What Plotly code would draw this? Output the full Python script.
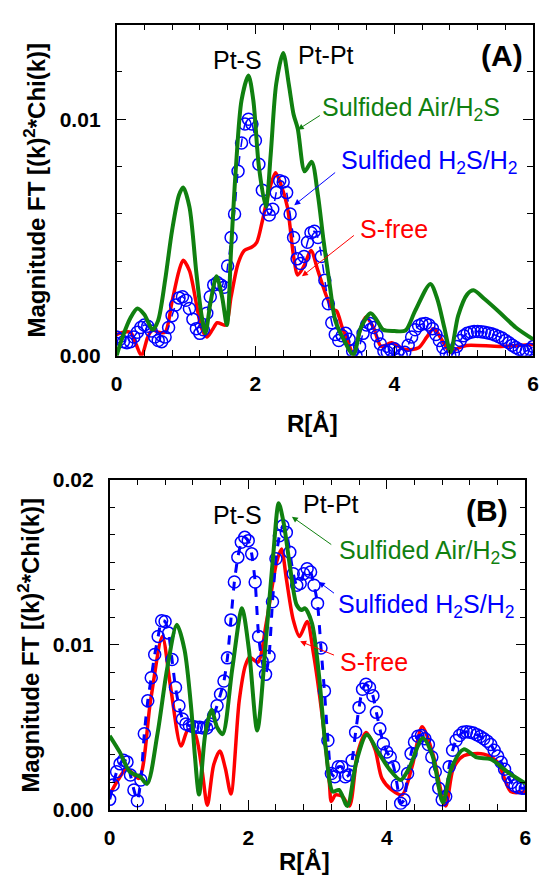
import plotly.graph_objects as go

# ---------------- Panel A data (values in units of 1e-3) ----------------
a_green_r = [0, 0.1, 0.2, 0.30, 0.4, 0.52, 0.6, 0.7, 0.8, 0.9, 0.96, 1.05, 1.15, 1.22, 1.28, 1.35, 1.44, 1.52, 1.59,
             1.65, 1.72, 1.8, 1.90, 1.97, 2.05, 2.15, 2.22, 2.3, 2.40, 2.48, 2.55, 2.61, 2.71, 2.81, 2.9, 2.98, 3.07,
             3.15, 3.27, 3.41, 3.52, 3.66, 3.75, 3.84, 4.0, 4.16, 4.3, 4.52, 4.62, 4.72, 4.81, 4.92, 5.05, 5.14, 5.3,
             5.53, 5.75, 6.0]
a_green_v = [0, 0.9, 1.6, 2.0, 1.75, 1.1, 1.5, 3.2, 5.3, 6.8, 7.12, 6.3, 3.5, 1.8, 0.96, 2.2, 3.36, 2.5, 1.3,
             4.5, 8.0, 10.8, 11.85, 10.8, 8.0, 6.3, 8.5, 11.5, 12.8, 11.5, 10.2, 9.6, 7.8, 8.2, 6.8, 4.9, 3.0,
             1.5, 0.7, 0.05, 1.2, 1.8, 1.5, 1.1, 1.05, 1.07, 1.9, 3.04, 2.4, 1.2, 0.16, 1.7, 2.6, 2.77, 2.4,
             1.8, 1.2, 0.7]

a_red_r = [0, 0.1, 0.2, 0.28, 0.36, 0.45, 0.52, 0.6, 0.7, 0.8, 0.9, 0.96, 1.05, 1.15, 1.22, 1.30, 1.38, 1.45, 1.57,
           1.65, 1.75, 1.84, 1.95, 2.02, 2.1, 2.2, 2.29, 2.36, 2.46, 2.55, 2.61, 2.7, 2.80, 2.9, 3.03, 3.12, 3.17,
           3.25, 3.32, 3.41, 3.5, 3.59, 3.7, 3.81, 3.96, 4.16, 4.35, 4.47, 4.57, 4.7, 4.81, 4.9, 5.04, 5.53, 6.0]
a_red_v = [0.9, 1.0, 1.0, 0.5, 0.0, 0.8, 1.1, 1.0, 1.0, 2.3, 3.6, 4.04, 3.6, 2.2, 1.2, 0.8, 1.1, 1.4, 1.3,
           2.5, 3.9, 4.45, 4.6, 4.8, 5.7, 7.0, 7.74, 7.3, 6.3, 4.2, 3.42, 3.8, 4.45, 3.6, 2.47, 1.95, 1.9,
           1.2, 0.7, 0.07, 1.0, 1.64, 1.2, 0.4, 0.55, 0.27, 0.34, 0.8, 1.16, 0.6, 0.14, 0.3, 0.44, 0.4, 0.48]

a_blue_r = [round(i * 0.05, 2) for i in range(121)]
a_blue_v = [0.8, 0.7, 0.6, 0.55, 0.6, 0.8, 1.0, 1.2, 1.3, 1.25, 1.05, 0.8, 0.65, 0.6, 0.8, 1.2, 1.7, 2.15, 2.45, 2.5,
            2.35, 2.0, 1.55, 1.15, 0.95, 1.1, 1.8, 2.5, 3.0, 3.1, 3.0, 2.9, 3.8, 5.0, 6.0, 7.8, 9.0, 9.8, 10.0, 9.8,
            9.1, 8.1, 7.0, 6.2, 5.95, 6.2, 6.9, 7.4, 7.35, 6.9, 6.0, 5.0, 4.1, 3.9, 4.2, 4.8, 5.2, 5.27, 5.0, 4.2,
            3.2, 2.2, 1.4, 0.9, 0.65, 0.85, 0.95, 0.7, 0.2, 0.0, 0.4, 0.95, 1.3, 1.37, 1.2, 0.85, 0.5, 0.2, 0.15, 0.25,
            0.3, 0.15, 0.02, 0.15, 0.45, 0.8, 1.1, 1.27, 1.35, 1.37, 1.3, 1.15, 0.9, 0.65, 0.35, 0.1, 0.0, 0.1, 0.4, 0.65,
            0.85, 0.95, 1.0, 1.03, 1.03, 1.02, 1.0, 0.97, 0.93, 0.88, 0.82, 0.75, 0.65, 0.55, 0.45, 0.35, 0.27, 0.22, 0.2, 0.28,
            0.4]

# ---------------- Panel B data (values in units of 1e-3) ----------------
b_green_r = [0, 0.15, 0.29, 0.44, 0.54, 0.69, 0.83, 0.97, 1.08, 1.18, 1.23, 1.29, 1.38, 1.47, 1.55, 1.63, 1.77, 1.91,
             2.01, 2.13, 2.26, 2.36, 2.44, 2.51, 2.60, 2.70, 2.77, 2.82, 2.92, 3.02, 3.12, 3.22, 3.31, 3.43, 3.56,
             3.71, 3.88, 4.03, 4.2, 4.32, 4.52, 4.66, 4.81, 4.93, 5.11, 5.3, 5.5, 5.74, 6.0]
b_green_v = [4.48, 3.46, 2.3, 2.0, 1.57, 4.6, 8.55, 11.2, 9.7, 6.0, 3.27, 0.92, 4.6, 6.05, 5.0, 4.58, 8.55, 12.2,
             9.7, 4.8, 10.5, 15.4, 18.57, 17.4, 14.8, 12.4, 12.1, 12.2, 11.3, 8.2, 3.66, 1.1, 1.2, 0.23, 2.9,
             4.54, 3.46, 2.5, 1.8, 2.5, 4.34, 3.27, 0.43, 2.5, 3.66, 3.17, 3.07, 2.3, 1.6]

b_red_r = [0, 0.12, 0.25, 0.42, 0.59, 0.76, 0.88, 1.03, 1.13, 1.23, 1.33, 1.41, 1.5, 1.59, 1.67, 1.75, 1.87, 1.96,
           2.02, 2.14, 2.26, 2.41, 2.48, 2.55, 2.65, 2.74, 2.85, 2.94, 3.07, 3.17, 3.2, 3.26, 3.36, 3.46, 3.58, 3.70,
           3.83, 3.93, 4.07, 4.22, 4.37, 4.51, 4.66, 4.85, 4.96, 5.11, 5.4, 5.6, 5.79, 6.0]
b_red_v = [0.9, 1.8, 2.5, 1.9, 6.6, 10.5, 7.4, 3.86, 4.83, 4.6, 2.5, 0.27, 2.7, 3.56, 2.5, 0.96, 6.6, 8.75,
           9.24, 8.94, 11.3, 15.0, 15.8, 14.0, 11.5, 10.5, 11.4, 9.5, 5.6, 1.7, 0.5, 0.9, 0.8, 0.23, 3.46, 4.68,
           3.66, 1.9, 1.2, 0.9, 2.7, 5.03, 3.46, 0.23, 2.5, 3.27, 3.37, 2.88, 1.1, 1.1]

b_blue_r = [round(i * 0.05, 2) for i in range(121)]
b_blue_v = [0.63, 1.5, 2.3, 2.78, 3.0, 2.9, 2.1, 1.2, 0.55, 1.8, 4.6, 6.6, 8.0, 9.4, 10.5, 11.45, 11.4, 10.7, 9.1, 7.4,
            6.3, 5.5, 5.2, 5.1, 5.05, 5.0, 5.0, 4.95, 4.95, 5.2, 5.7, 6.3, 7.0, 7.8, 9.2, 11.5, 13.8, 15.3, 16.2, 16.5,
            16.3, 15.5, 13.8, 10.5, 9.0, 8.2, 9.3, 12.6, 15.2, 16.6, 17.2, 16.8, 15.6, 14.3, 13.6, 13.7, 14.3, 14.6, 14.4, 13.6,
            12.5, 9.8, 7.2, 4.2, 2.2, 2.0, 2.6, 2.6, 2.0, 2.1, 3.0, 4.7, 6.2, 7.3, 7.6, 7.4, 6.9, 5.9, 4.9, 4.0,
            3.5, 3.2, 2.6, 1.5, 0.4, 0.6, 2.2, 3.4, 4.1, 4.45, 4.5, 4.3, 3.95, 3.2, 2.3, 1.3, 0.6, 0.8, 2.6, 3.6,
            4.2, 4.5, 4.7, 4.73, 4.7, 4.65, 4.55, 4.44, 4.3, 4.15, 3.95, 3.6, 3.25, 2.88, 2.45, 2.0, 1.65, 1.45, 1.35, 1.3,
            1.3]

x_tickvals = [0, 2, 4, 6]
a_y_tickvals = [0.0, 0.01]
b_y_tickvals = [0.0, 0.01, 0.02]

GREEN = "rgb(16,128,16)"
RED = "rgb(255,0,0)"
BLUE = "rgb(0,0,255)"
FONT = "Liberation Sans, Arial, Helvetica, DejaVu Sans, sans-serif"

def sc(v):
    return [x * 1e-3 for x in v]

fig = go.Figure()

def add_panel(xa, ya, red_r, red_v, blue_r, blue_v, green_r, green_v, dashw):
    fig.add_trace(go.Scatter(x=red_r, y=sc(red_v), mode="lines",
                             line=dict(color=RED, width=3.5, shape="spline", smoothing=0.8),
                             xaxis=xa, yaxis=ya, name="S-free"))
    fig.add_trace(go.Scatter(x=blue_r, y=sc(blue_v), mode="lines+markers",
                             line=dict(color=BLUE, width=dashw, dash="dash", shape="spline", smoothing=0.6),
                             marker=dict(symbol="circle-open", size=12, color=BLUE, line=dict(width=1.5, color=BLUE)),
                             xaxis=xa, yaxis=ya, name="Sulfided H2S/H2"))
    fig.add_trace(go.Scatter(x=green_r, y=sc(green_v), mode="lines",
                             line=dict(color=GREEN, width=4, shape="spline", smoothing=0.8),
                             xaxis=xa, yaxis=ya, name="Sulfided Air/H2S"))

add_panel("x", "y", a_red_r, a_red_v, a_blue_r, a_blue_v, a_green_r, a_green_v, 1.5)
add_panel("x2", "y2", b_red_r, b_red_v, b_blue_r, b_blue_v, b_green_r, b_green_v, 3)

W, H = 547, 887

def xdom(l, r):
    return [l / W, r / W]

def ydom(t, b):
    return [1 - b / H, 1 - t / H]

axis_common = dict(
    showline=True, linecolor="black", linewidth=1.5, mirror="ticks",
    ticks="inside", ticklen=10, tickwidth=1.2, tickcolor="black",
    showgrid=False, zeroline=False,
    tickfont=dict(family=FONT, size=21, color="black", weight="bold"),
)
minor_common = dict(ticks="inside", ticklen=6, tickcolor="black", tickwidth=1.2, tick0=0)

fig.update_layout(
    width=W, height=H, margin=dict(l=0, r=0, t=0, b=0),
    paper_bgcolor="white", plot_bgcolor="white", showlegend=False,
    font=dict(family=FONT, color="black", size=20),
    xaxis=dict(domain=xdom(113, 539), range=[0, 6], anchor="y", tickvals=x_tickvals, ticklabelstandoff=8,
               minor=dict(dtick=0.4, **minor_common), **axis_common),
    yaxis=dict(domain=ydom(13, 353), range=[0, 0.014], anchor="x", tickvals=a_y_tickvals, tickformat=".2f",
               ticklabelstandoff=10, minor=dict(dtick=0.002, **minor_common), **axis_common),
    xaxis2=dict(domain=xdom(106, 531), range=[0, 6], anchor="y2", tickvals=x_tickvals, ticklabelstandoff=8,
                minor=dict(dtick=0.4, **minor_common), **axis_common),
    yaxis2=dict(domain=ydom(480, 819), range=[0, 0.02], anchor="x2", tickvals=b_y_tickvals, tickformat=".2f",
                ticklabelstandoff=10, minor=dict(dtick=0.01 / 6, **minor_common), **axis_common),
)

ann = []

def label(xr, yr, text, color, ax="x", ay="y", size=25, bold=False):
    f = dict(family=FONT, size=size, color=color)
    if bold:
        f["weight"] = "bold"
    ann.append(dict(x=xr, y=yr, xref=ax, yref=ay, text=text, showarrow=False, font=f,
                    xanchor="center", yanchor="middle"))

def arrow(x0, y0, x1, y1, color, ax="x", ay="y"):
    ann.append(dict(x=x1, y=y1, ax=x0, ay=y0, xref=ax, yref=ay, axref=ax, ayref=ay, text="",
                    font=dict(family=FONT, size=10, color=color),
                    showarrow=True, arrowhead=2, arrowsize=1.2, arrowwidth=1, arrowcolor=color))

# Panel A labels
label(1.74, 0.0125, "Pt-S", "black")
label(3.02, 0.0127, "Pt-Pt", "black")
label(5.55, 0.0127, "(A)", "black", size=30, bold=True)
label(4.24, 0.01044, "Sulfided Air/H<sub>2</sub>S", GREEN)
label(4.51, 0.0082, "Sulfided H<sub>2</sub>S/H<sub>2</sub>", BLUE)
label(4.0, 0.00537, "S-free", RED)
arrow(2.95, 0.0102, 2.61, 0.00956, GREEN)
arrow(3.17, 0.0078, 2.56, 0.00637, BLUE)
arrow(3.44, 0.00514, 2.67, 0.00336, RED)

# Panel B labels
label(1.85, 0.01785, "Pt-S", "black", ax="x2", ay="y2")
label(3.19, 0.0185, "Pt-Pt", "black", ax="x2", ay="y2")
label(5.45, 0.0181, "(B)", "black", ax="x2", ay="y2", size=30, bold=True)
label(4.6, 0.0156, "Sulfided Air/H<sub>2</sub>S", GREEN, ax="x2", ay="y2")
label(4.57, 0.01237, "Sulfided H<sub>2</sub>S/H<sub>2</sub>", BLUE, ax="x2", ay="y2")
label(3.82, 0.00894, "S-free", RED, ax="x2", ay="y2")
arrow(3.22, 0.0160, 2.63, 0.01775, GREEN, "x2", "y2")
arrow(3.26, 0.01305, 3.02, 0.0138, BLUE, "x2", "y2")
arrow(3.26, 0.00933, 2.75, 0.0102, RED, "x2", "y2")

# Axis titles
TF = dict(family=FONT, size=24, color="black", weight="bold")
ann.append(dict(x=313 / W, y=1 - 422 / H, xref="paper", yref="paper", text="R[Å]", showarrow=False, font=TF,
                xanchor="center", yanchor="middle"))
ann.append(dict(x=305 / W, y=1 - 872 / H, xref="paper", yref="paper", text="R[Å]", showarrow=False, font=TF,
                xanchor="center", yanchor="middle"))
ytitle = "Magnitude FT [(k)<sup>2</sup>*Chi(k)]"
ann.append(dict(x=30 / W, y=1 - 183 / H, xref="paper", yref="paper", text=ytitle, showarrow=False, font=TF,
                textangle=-90, xanchor="center", yanchor="middle"))
ann.append(dict(x=24 / W, y=1 - 650 / H, xref="paper", yref="paper", text=ytitle, showarrow=False, font=TF,
                textangle=-90, xanchor="center", yanchor="middle"))

fig.update_layout(annotations=ann)
fig.write_html("out.html", config={"displayModeBar": False},
               post_script="document.body.style.margin='0';document.body.style.padding='0';document.body.style.overflow='hidden';")
